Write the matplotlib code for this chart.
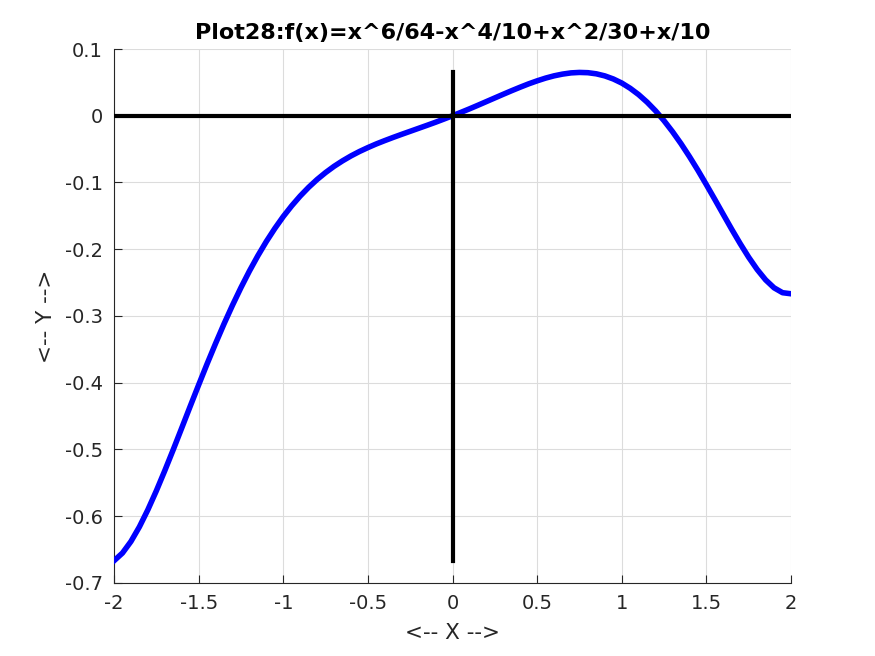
import matplotlib
matplotlib.use("Agg")
import matplotlib.pyplot as plt

plt.rcParams["font.family"] = ["DejaVu Sans"]

# f(x) every 0.05 from -2 to 2
x_vals = [-2.0, -1.95, -1.9, -1.85, -1.8, -1.75, -1.7, -1.65, -1.6, -1.55,
          -1.5, -1.45, -1.4, -1.35, -1.3, -1.25, -1.2, -1.15, -1.1, -1.05,
          -1.0, -0.95, -0.9, -0.85, -0.8, -0.75, -0.7, -0.65, -0.6, -0.55,
          -0.5, -0.45, -0.4, -0.35, -0.3, -0.25, -0.2, -0.15, -0.1, -0.05,
          0.0, 0.05, 0.1, 0.15, 0.2, 0.25, 0.3, 0.35, 0.4, 0.45,
          0.5, 0.55, 0.6, 0.65, 0.7, 0.75, 0.8, 0.85, 0.9, 0.95,
          1.0, 1.05, 1.1, 1.15, 1.2, 1.25, 1.3, 1.35, 1.4, 1.45,
          1.5, 1.55, 1.6, 1.65, 1.7, 1.75, 1.8, 1.85, 1.9, 1.95, 2.0]
y_vals = [-0.6667, -0.6551, -0.6378, -0.6159, -0.5903, -0.5620, -0.5317,
          -0.5002, -0.4679, -0.4354, -0.4033, -0.3717, -0.3412, -0.3118,
          -0.2839, -0.2575, -0.2327, -0.2097, -0.1884, -0.1689, -0.1510,
          -0.1349, -0.1203, -0.1072, -0.0955, -0.0851, -0.0758, -0.0676,
          -0.0602, -0.0536, -0.0477, -0.0422, -0.0372, -0.0324, -0.0278,
          -0.0233, -0.0188, -0.0143, -0.0097, -0.0049, 0.0,
          0.0051, 0.0103, 0.0157, 0.0212, 0.0267, 0.0322, 0.0376, 0.0428,
          0.0478, 0.0523, 0.0564, 0.0598, 0.0624, 0.0642, 0.0649, 0.0645,
          0.0628, 0.0597, 0.0551, 0.0490, 0.0411, 0.0316, 0.0203, 0.0073,
          -0.0075, -0.0239, -0.0418, -0.0612, -0.0817, -0.1033, -0.1254,
          -0.1479, -0.1702, -0.1917, -0.2120, -0.2303, -0.2459, -0.2578,
          -0.2651, -0.2667]

x_ticks = [-2, -1.5, -1, -0.5, 0, 0.5, 1, 1.5, 2]
x_tick_labels = ["-2", "-1.5", "-1", "-0.5", "0", "0.5", "1", "1.5", "2"]
y_ticks = [-0.7, -0.6, -0.5, -0.4, -0.3, -0.2, -0.1, 0, 0.1]
y_tick_labels = ["-0.7", "-0.6", "-0.5", "-0.4", "-0.3", "-0.2", "-0.1", "0", "0.1"]

fig = plt.figure(figsize=(8.75, 6.56), dpi=100)
ax = fig.add_axes([0.1303, 0.1113, 0.7737, 0.814])

ax.plot(x_vals, y_vals, color="blue", linewidth=4, zorder=3,
        solid_joinstyle="round")
ax.plot([min(x_vals), max(x_vals)], [0, 0], color="black", linewidth=3, zorder=4)
ax.plot([0, 0], [min(y_vals), max(y_vals)], color="black", linewidth=3, zorder=4)

ax.set_xlim(-2, 2)
ax.set_ylim(-0.7, 0.1)
ax.set_xticks(x_ticks)
ax.set_xticklabels(x_tick_labels)
ax.set_yticks(y_ticks)
ax.set_yticklabels(y_tick_labels)

ax.grid(True, color="#dcdcdc", linewidth=0.8)
ax.set_axisbelow(True)
for s in ["top", "right"]:
    ax.spines[s].set_visible(False)
for s in ["left", "bottom"]:
    ax.spines[s].set_color("#262626")
    ax.spines[s].set_linewidth(0.8)
ax.tick_params(direction="in", length=6, width=0.8, colors="#262626",
               labelsize=14, pad=8)

ax.set_title("Plot28:f(x)=x^6/64-x^4/10+x^2/30+x/10", fontsize=16,
             fontweight="bold", pad=7)
ax.set_xlabel("<-- X -->", fontsize=15.5, color="#262626", labelpad=7)
ax.set_ylabel("<-- Y -->", fontsize=15.5, color="#262626", labelpad=6)

fig.savefig("out.png", dpi=100)
